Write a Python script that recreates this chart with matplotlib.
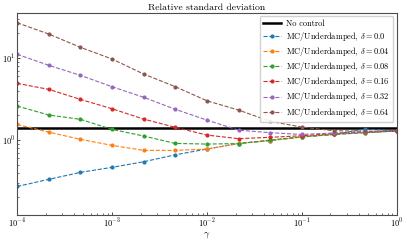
import numpy as np
import matplotlib
matplotlib.use("Agg")
import matplotlib.pyplot as plt

plt.rcParams['font.family'] = 'serif'
plt.rcParams['font.serif'] = ['cmr10']
plt.rcParams['mathtext.fontset'] = 'cm'
plt.rcParams['axes.formatter.use_mathtext'] = True
plt.rcParams['xtick.direction'] = 'in'
plt.rcParams['ytick.direction'] = 'in'

# data
gamma = np.logspace(-4, 0, 13)
no_control = 1.42
deltas = ["0.0", "0.04", "0.08", "0.16", "0.32", "0.64"]
rsd_000 = [0.272, 0.332, 0.404, 0.465, 0.544, 0.662, 0.777, 0.906, 0.986, 1.09, 1.17, 1.36, 1.29]
rsd_004 = [1.55, 1.25, 1.02, 0.862, 0.749, 0.749, 0.777, 0.911, 0.986, 1.09, 1.17, 1.23, 1.29]
rsd_008 = [2.60, 2.02, 1.79, 1.35, 1.12, 0.91, 0.894, 0.906, 1.0, 1.10, 1.17, 1.23, 1.29]
rsd_016 = [4.91, 4.15, 3.13, 2.41, 1.80, 1.43, 1.15, 1.04, 1.08, 1.13, 1.20, 1.25, 1.29]
rsd_032 = [11.1, 8.15, 6.15, 4.47, 3.32, 2.37, 1.75, 1.32, 1.23, 1.17, 1.22, 1.25, 1.29]
rsd_064 = [26.9, 19.6, 13.5, 9.72, 6.38, 4.47, 3.01, 2.32, 1.69, 1.44, 1.30, 1.28, 1.29]
series = [rsd_000, rsd_004, rsd_008, rsd_016, rsd_032, rsd_064]

fig = plt.figure(figsize=(4.07, 2.40), dpi=100)
ax = fig.add_axes([0.042, 0.104, 0.933, 0.842])

ax.axhline(no_control, color='k', lw=1.8, label='No control')
for d, vals in zip(deltas, series):
    ax.plot(gamma, vals, ls='--', marker='o', ms=2, lw=0.8,
            label=r'MC/Underdamped, $\delta = %s$' % d)

ax.set_xscale('log')
ax.set_yscale('log')
ax.set_xlim(1e-4, 1e0)
ax.set_ylim(0.122, 35.4)
ax.set_title('Relative standard deviation', fontsize=7, pad=2)
ax.set_xlabel(r'$\gamma$', fontsize=7, labelpad=0)
ax.tick_params(labelsize=6, length=2.5, width=0.5, pad=1.5)
ax.tick_params(which='minor', length=1.5, width=0.4)
for s in ax.spines.values():
    s.set_color('0.3')
    s.set_linewidth(0.8)

ax.legend(loc='upper right', fontsize=6, labelspacing=0.25, handlelength=2.2,
          handletextpad=0.6, borderpad=0.4, borderaxespad=0.4,
          framealpha=0.9, fancybox=True)

fig.savefig('out.png', dpi=100)
